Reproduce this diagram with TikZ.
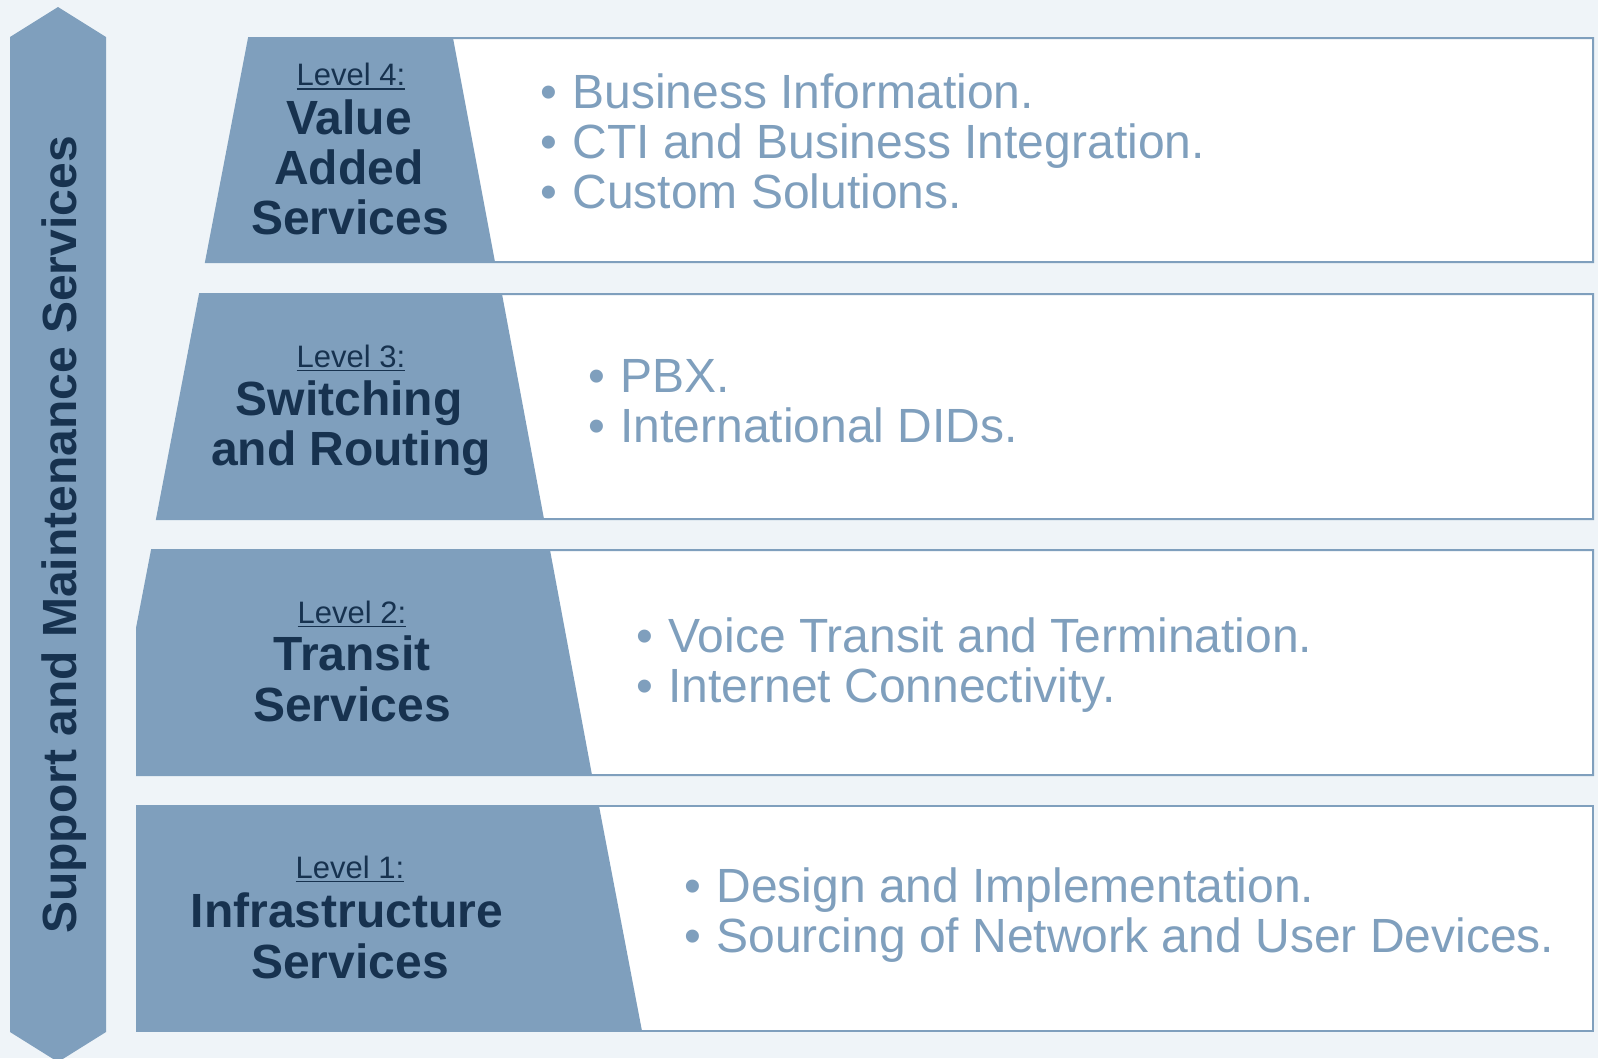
\documentclass[tikz,border=0pt]{standalone}
\usepackage{fontspec}
\setmainfont{Liberation Sans}
\usetikzlibrary{calc}
\definecolor{bg}{HTML}{EFF4F8}
\definecolor{steel}{HTML}{7F9FBD}
\definecolor{navy}{HTML}{17324F}
\newcommand{\bul}{•\hspace{15.5pt}}
\begin{document}
\begin{tikzpicture}[x=1pt,y=-1pt,
  band/.style={draw=steel, line width=2pt, fill=white},
  pyr/.style={fill=steel},
  lvl/.style={font=\fontsize{31}{31}\selectfont, text=navy, inner sep=0pt, anchor=base},
  ttl/.style={font=\fontsize{48}{50}\selectfont\bfseries, text=navy, inner sep=0pt, anchor=base},
  item/.style={font=\fontsize{48}{50}\selectfont, text=steel, inner sep=0pt, anchor=base west},
  uline/.style={draw=navy, line width=1.6pt}]
\useasboundingbox (0,0) rectangle (1598,1058);
\clip (0,0) rectangle (1598,1058);
\fill[bg] (0,0) rectangle (1598,1058);
% side arrow
\fill[steel] (58,7) -- (106,37) -- (106,1032) -- (58,1062) -- (10,1032) -- (10,37) -- cycle;
\node[font=\fontsize{48}{50}\selectfont\bfseries, text=navy, inner sep=0pt, anchor=base, rotate=90] (side) at (76.5,535) {Support and Maintenance Services};
% Level 4
\draw[band] (249,38) -- (1593,38) -- (1593,262) -- (206,262) -- cycle;
\fill[pyr] (249,38) -- (453,38) -- (495,262) -- (206,262) -- cycle;
% Level 3
\draw[band] (200,294) -- (1593,294) -- (1593,519) -- (157,519) -- cycle;
\fill[pyr] (200,294) -- (502,294) -- (544,519) -- (157,519) -- cycle;
% Level 2
\draw[band] (152,550) -- (1593,550) -- (1593,775) -- (137,775) -- (137,628) -- cycle;
\fill[pyr] (152,550) -- (550,550) -- (592,775) -- (137,775) -- (137,628) -- cycle;
% Level 1
\draw[band] (137,806) -- (1593,806) -- (1593,1031) -- (137,1031) -- cycle;
\fill[pyr] (137,806) -- (599,806) -- (642,1031) -- (137,1031) -- cycle;
% Level 4 texts
\node[lvl] (lv4) at (351,85.5) {Level 4:};
\draw[uline] ($(lv4.base west)+(0,3.5)$) -- ($(lv4.base east)+(0,3.5)$);
\node[ttl] (t4a) at (349,134.5) {Value};
\node[ttl] (t4b) at (349,184.5) {Added};
\node[ttl] (t4c) at (350,234.5) {Services};
\node[item] (i4a) at (540,108) {\bul Business Information.};
\node[item] (i4b) at (540,158) {\bul CTI and Business Integration.};
\node[item] (i4c) at (540,208) {\bul Custom Solutions.};
% Level 3 texts
\node[lvl] (lv3) at (351,367) {Level 3:};
\draw[uline] ($(lv3.base west)+(0,3.5)$) -- ($(lv3.base east)+(0,3.5)$);
\node[ttl] (t3a) at (349,415) {Switching};
\node[ttl] (t3b) at (351,465.5) {and Routing};
\node[item] (i3a) at (588,392) {\bul PBX.};
\node[item] (i3b) at (588,442) {\bul International DIDs.};
% Level 2 texts
\node[lvl] (lv2) at (352,623) {Level 2:};
\draw[uline] ($(lv2.base west)+(0,3.5)$) -- ($(lv2.base east)+(0,3.5)$);
\node[ttl] (t2a) at (352,670.5) {Transit};
\node[ttl] (t2b) at (352,721.5) {Services};
\node[item] (i2a) at (636,652) {\bul Voice Transit and Termination.};
\node[item] (i2b) at (636,702) {\bul Internet Connectivity.};
% Level 1 texts
\node[lvl] (lv1) at (350,878) {Level 1:};
\draw[uline] ($(lv1.base west)+(0,3.5)$) -- ($(lv1.base east)+(0,3.5)$);
\node[ttl] (t1a) at (347,927) {Infrastructure};
\node[ttl] (t1b) at (350,978) {Services};
\node[item] (i1a) at (684,902) {\bul Design and Implementation.};
\node[item] (i1b) at (684,952) {\bul Sourcing of Network and User Devices.};
\end{tikzpicture}
\end{document}
